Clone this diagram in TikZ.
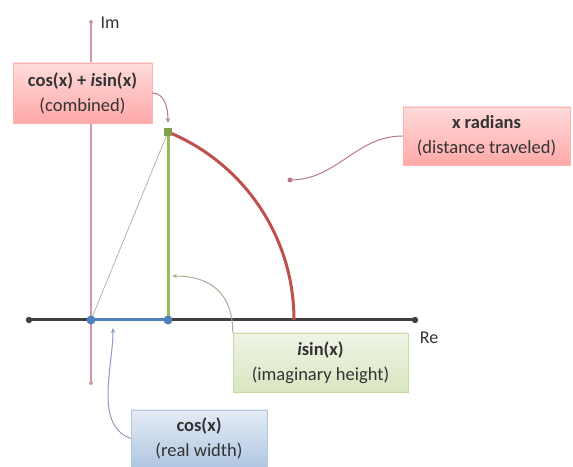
\documentclass[tikz,border=0pt]{standalone}
\usepackage{fontspec}
\setmainfont{Carlito}
\usetikzlibrary{arrows.meta}
\definecolor{axisgray}{HTML}{404040}
\definecolor{impink}{HTML}{D39A9E}
\definecolor{arcred}{HTML}{C0504D}
\definecolor{sinegreen}{HTML}{9BBB59}
\definecolor{cosblue}{HTML}{4F81BD}
\definecolor{textgray}{HTML}{333333}
\definecolor{linkpink}{HTML}{B87A86}
\definecolor{linkgreen}{HTML}{A7AE92}
\definecolor{linkblue}{HTML}{8A9BBE}
\tikzstyle{note} = [draw, align=center, inner sep=0pt, text=textgray, font=\fontsize{18.5}{25}\selectfont]
\tikzstyle{pinknote} = [note, draw=red!30, top color=red!14, bottom color=red!34]
\tikzstyle{greennote} = [note, draw=sinegreen!55, top color=sinegreen!15, bottom color=sinegreen!38]
\tikzstyle{bluenote} = [note, draw=cosblue!45, top color=cosblue!15, bottom color=cosblue!45]
\tikzstyle{axislabel} = [text=textgray, font=\fontsize{18}{20}\selectfont]
\tikzstyle{link} = [line width=1pt]
\tikzstyle{tip} = [-{Stealth[length=5pt,width=4pt]}]

\begin{document}
\begin{tikzpicture}[x=1pt,y=1pt]
			\useasboundingbox (0,0) rectangle (573,466);
			\coordinate (O) at (91,146);
			\coordinate (C) at (168,146);
			\coordinate (P) at (168,334);
			\coordinate (imtop) at (91,444);
			\coordinate (imbot) at (91,83);
			\coordinate (releft) at (29,146);
			\coordinate (reright) at (415,146);
			% axes
			\draw[impink, line width=1.5pt] (imbot) -- (imtop);
			\fill[impink] (imbot) circle (2) (imtop) circle (2);
			\draw[axisgray, line width=3pt] (releft) -- (reright);
			\fill[axisgray] (releft) circle (3.2) (reright) circle (3.2);
			\node[axislabel] (imlabel) at (110,443) {Im};
			\node[axislabel] (relabel) at (429,128) {Re};
			% the point on the circle
			\draw[gray!60, line width=0.8pt] (O) -- (P);
			\draw[arcred, line width=3pt] (P) arc[start angle=67.7, end angle=0, radius=203];
			\draw[sinegreen, line width=3pt] (C) -- (P);
			\draw[cosblue, line width=3pt] (O) -- (C);
			\fill[cosblue] (O) circle (4.5) (C) circle (4.5);
			\node[fill=sinegreen!85!black, minimum size=8pt, inner sep=0pt] (pmark) at (P) {};
			% callouts
			\node[pinknote, minimum width=139pt, minimum height=60pt] (combined) at (82.5,373)
				{\textbf{cos(x) + \textit{i}sin(x)}\\(combined)};
			\node[pinknote, minimum width=167pt, minimum height=58pt] (radians) at (486.5,330)
				{\textbf{x radians}\\(distance traveled)};
			\node[greennote, minimum width=175pt, minimum height=59pt] (imag) at (320.5,103.5)
				{\textbf{\textit{i}sin(x)}\\(imaginary height)};
			\node[bluenote, minimum width=136pt, minimum height=57pt] (real) at (199,27.5)
				{\textbf{cos(x)}\\(real width)};
			\coordinate (ptip) at (168,343);
			\coordinate (rdot) at (290,286);
			\coordinate (htip) at (172,190);
			\coordinate (wtip) at (113,138);
			\draw[link, linkpink, tip] (combined.east) to[out=0, in=90] (ptip);
			\draw[link, linkpink] (radians.west) to[out=180, in=0] (rdot);
			\fill[linkpink] (rdot) circle (2.5);
			\draw[link, linkgreen, tip] (imag.north west) to[out=90, in=0, looseness=1.2] (htip);
			\draw[link, linkblue, tip] (real.west) to[out=160, in=-90, looseness=0.9] (wtip);
		\end{tikzpicture}
\end{document}
